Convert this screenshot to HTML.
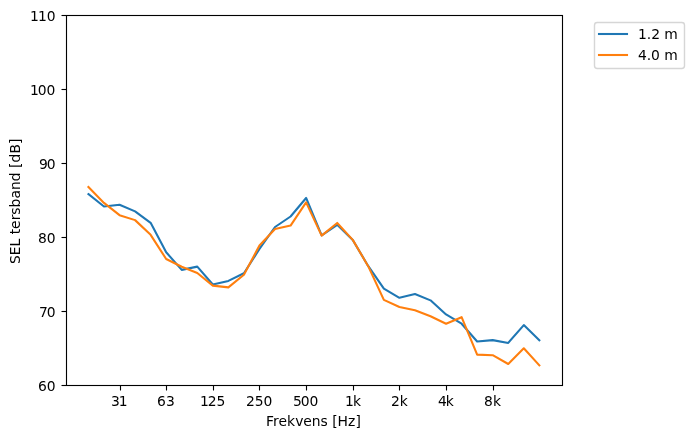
<!DOCTYPE html>
<html lang="sv"><head><meta charset="utf-8"><title>SEL tersband</title>
<style>html,body{margin:0;padding:0;background:#fff}svg{display:block}text{font-family:"DejaVu Sans","Liberation Sans",sans-serif;font-size:13.89px;fill:#000}</style></head><body>
<svg width="693" height="438" viewBox="0 0 693 438">
<rect width="693" height="438" fill="#fff"/>
<polyline points="88.44,194.11 103.98,206.46 119.53,204.69 135.08,211.41 150.63,222.80 166.18,252.29 181.73,269.88 197.28,266.63 212.82,284.52 228.37,280.90 243.92,273.28 259.47,248.96 275.02,227.01 290.57,216.51 306.12,197.96 321.66,235.36 337.21,224.87 352.76,240.02 368.31,266.19 383.86,288.58 399.41,297.82 414.96,294.05 430.50,300.34 446.05,314.46 461.60,323.70 477.15,341.51 492.70,340.11 508.25,342.92 523.80,325.10 539.34,340.33" fill="none" stroke="#1f77b4" stroke-width="2.08" stroke-linecap="square" stroke-linejoin="round"/>
<polyline points="88.44,187.09 103.98,202.91 119.53,215.18 135.08,220.13 150.63,234.84 166.18,259.02 181.73,266.78 197.28,272.99 212.82,285.63 228.37,287.40 243.92,274.76 259.47,245.49 275.02,229.00 290.57,225.60 306.12,202.39 321.66,235.66 337.21,222.94 352.76,239.87 368.31,266.41 383.86,299.89 399.41,306.99 414.96,310.32 430.50,316.30 446.05,323.77 461.60,317.19 477.15,354.59 492.70,355.19 508.25,363.98 523.80,348.24 539.34,365.39" fill="none" stroke="#ff7f0e" stroke-width="2.08" stroke-linecap="square" stroke-linejoin="round"/>
<g stroke="#000" stroke-width="1.11" fill="none">
<line x1="120.5" y1="385.5" x2="120.5" y2="390.5"/>
<line x1="166.5" y1="385.5" x2="166.5" y2="390.5"/>
<line x1="213.5" y1="385.5" x2="213.5" y2="390.5"/>
<line x1="259.5" y1="385.5" x2="259.5" y2="390.5"/>
<line x1="306.5" y1="385.5" x2="306.5" y2="390.5"/>
<line x1="353.5" y1="385.5" x2="353.5" y2="390.5"/>
<line x1="399.5" y1="385.5" x2="399.5" y2="390.5"/>
<line x1="446.5" y1="385.5" x2="446.5" y2="390.5"/>
<line x1="493.5" y1="385.5" x2="493.5" y2="390.5"/>
<line x1="61.5" y1="385.5" x2="66.5" y2="385.5"/>
<line x1="61.5" y1="311.5" x2="66.5" y2="311.5"/>
<line x1="61.5" y1="237.5" x2="66.5" y2="237.5"/>
<line x1="61.5" y1="163.5" x2="66.5" y2="163.5"/>
<line x1="61.5" y1="89.5" x2="66.5" y2="89.5"/>
<line x1="61.5" y1="15.5" x2="66.5" y2="15.5"/>
<rect x="66.5" y="15.5" width="496" height="370" stroke-linejoin="miter"/>
</g>
<text x="30 38 46.75" y="21">110</text>
<text x="30 37.75 46.5" y="95">100</text>
<text x="39 46.75" y="169">90</text>
<text x="38 46.75" y="243">80</text>
<text x="39 46.75" y="317">70</text>
<text x="38 46.75" y="391">60</text>
<text x="111 118.75" y="406">31</text>
<text x="157 166" y="406">63</text>
<text x="200 207.75 216.5" y="406">125</text>
<text x="246 254.75 263.5" y="406">250</text>
<text x="293 300.75 309.5" y="406">500</text>
<text x="345 353" y="406">1k</text>
<text x="391 399.75" y="406">2k</text>
<text x="438 445.75" y="406">4k</text>
<text x="484 493" y="406">8k</text>
<text x="266 273 278.5 287 295.25 303.25 311.75 320.5 328 332.25 337.5 348 355.5" y="426">Frekvens [Hz]</text>
<text transform="translate(20,282) rotate(-90)" x="18 26.75 35.5 43.25 47.75 53 61.75 67.25 74.5 83.5 92 100.75 109.5 114 119.5 128.5 138" y="0">SEL tersband [dB]</text>
<rect x="594.5" y="22.5" width="90" height="46" rx="2.78" ry="2.78" fill="#fff" fill-opacity="0.8" stroke="#ccc" stroke-opacity="0.8" stroke-width="1.4"/>
<line x1="599" x2="627" y1="34" y2="34" stroke="#1f77b4" stroke-width="2.08" stroke-linecap="square"/>
<line x1="599" x2="627" y1="55" y2="55" stroke="#ff7f0e" stroke-width="2.08" stroke-linecap="square"/>
<text x="638 646.75 651.25 660 664.25" y="39">1.2 m</text>
<text x="638 646.75 651 659.75 664.25" y="60">4.0 m</text>
</svg></body></html>
